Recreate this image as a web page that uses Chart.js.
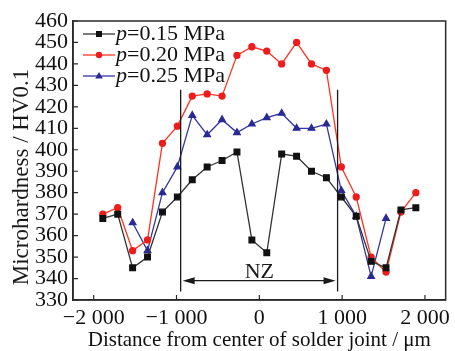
<!DOCTYPE html>
<html>
<head>
<meta charset="utf-8">
<script src="https://cdn.jsdelivr.net/npm/chart.js@4.4.1/dist/chart.umd.min.js"></script>
<style>
  html, body { margin: 0; padding: 0; background: #fff; }
</style>
</head>
<body>
<canvas id="mycanvas" width="455" height="351"></canvas>
<script>
// distance from centre of joint (um)
const xPos = [-1890, -1710, -1530, -1350, -1170, -990, -810, -630, -450, -270, -90,
              90, 270, 450, 630, 810, 990, 1170, 1350, 1530, 1710, 1890];
const hv015 = [368, 370, 345, 350, 371, 378, 386, 392, 395, 399, 358,
               352, 398, 397, 390, 387, 378, 369, 348, 345, 372, 373];
const hv020 = [370, 373, 353, 358, 403, 411, 425, 426, 425, 444, 448,
               446, 440, 450, 440, 437, 392, 378, 350, 343, 371, 380];
const xPos025 = [-1530, -1350, -1170, -990, -810, -630, -450, -270, -90,
                 90, 270, 450, 630, 810, 990, 1170, 1350, 1530];
const hv025 = [366, 353, 380, 392, 416, 407, 414, 408, 412,
               415, 417, 410, 410, 412, 381, 369, 341, 368];
const seriesNames = ['0.15 MPa', '0.20 MPa', '0.25 MPa'];
const xTicks = [-2000, -1000, 0, 1000, 2000];
// NZ boundaries and marker height
const nzEdges = [-950, 945];
const nzLineTop = 428, nzLineBottom = 334, nzArrowY = 339, nzLabelY = 343;

const serif = '"Liberation Serif", "Times New Roman", serif';

function pts(xs, ys) {
    return xs.map((x, i) => ({ x: x, y: ys[i] }));
}

function fmtX(v) {
    const a = Math.abs(v);
    const s = a >= 1000 ? Math.floor(a / 1000) + ' ' + String(a % 1000).padStart(3, '0') : String(a);
    return (v < 0 ? '\u2212' : '') + s;
}

const decor = {
    id: 'decor',
    afterDraw(chart) {
        const ctx = chart.ctx;
        const a = chart.chartArea;
        const x = chart.scales.x, y = chart.scales.y;
        ctx.save();
        ctx.strokeStyle = '#2a2a2a';
        ctx.lineWidth = 1.5;
        ctx.strokeRect(a.left, a.top, a.right - a.left, a.bottom - a.top);

        // inward ticks
        ctx.lineWidth = 1.2;
        ctx.beginPath();
        y.ticks.forEach(t => {
            const py = y.getPixelForValue(t.value);
            ctx.moveTo(a.left, py); ctx.lineTo(a.left + 5, py);
        });
        x.ticks.forEach(t => {
            const px = x.getPixelForValue(t.value);
            ctx.moveTo(px, a.bottom); ctx.lineTo(px, a.bottom - 5);
        });
        ctx.stroke();

        // NZ boundaries
        ctx.strokeStyle = '#1a1a1a';
        ctx.lineWidth = 1.3;
        ctx.beginPath();
        nzEdges.forEach(e => {
            const px = x.getPixelForValue(e);
            ctx.moveTo(px, y.getPixelForValue(nzLineTop));
            ctx.lineTo(px, y.getPixelForValue(nzLineBottom));
        });
        const x1 = x.getPixelForValue(nzEdges[0]) + 2, x2 = x.getPixelForValue(nzEdges[1]) - 2;
        const ay = y.getPixelForValue(nzArrowY);
        ctx.moveTo(x1 + 8, ay); ctx.lineTo(x2 - 8, ay);
        ctx.stroke();
        ctx.fillStyle = '#1a1a1a';
        ctx.beginPath();
        ctx.moveTo(x1, ay); ctx.lineTo(x1 + 12, ay - 3.5); ctx.lineTo(x1 + 12, ay + 3.5); ctx.closePath();
        ctx.moveTo(x2, ay); ctx.lineTo(x2 - 12, ay - 3.5); ctx.lineTo(x2 - 12, ay + 3.5); ctx.closePath();
        ctx.fill();
        ctx.font = '22px ' + serif;
        ctx.textAlign = 'center';
        ctx.textBaseline = 'middle';
        ctx.fillText('NZ', x.getPixelForValue(0), y.getPixelForValue(nzLabelY));

        // y title
        ctx.save();
        ctx.translate(22, 177);
        ctx.rotate(-Math.PI / 2);
        ctx.font = '23px ' + serif;
        ctx.fillText('Microhardness / HV0.1', 0, 0);
        ctx.restore();

        // legend
        chart.data.datasets.forEach((ds, i) => {
            const ly = a.top + 13 + i * 21;
            const lx = a.left + 10;
            ctx.strokeStyle = ds.borderColor;
            ctx.lineWidth = 1.3;
            ctx.beginPath();
            ctx.moveTo(lx, ly); ctx.lineTo(lx + 32, ly);
            ctx.stroke();
            ctx.fillStyle = ds.pointBackgroundColor;
            const cx = lx + 16;
            ctx.beginPath();
            if (ds.pointStyle === 'rect') {
                ctx.rect(cx - 3, ly - 3, 6, 6);
            } else if (ds.pointStyle === 'circle') {
                ctx.arc(cx, ly, 3.2, 0, Math.PI * 2);
            } else {
                ctx.moveTo(cx, ly - 4); ctx.lineTo(cx + 3.8, ly + 2.5); ctx.lineTo(cx - 3.8, ly + 2.5); ctx.closePath();
            }
            ctx.fill();
            ctx.fillStyle = '#111111';
            ctx.textAlign = 'left';
            ctx.textBaseline = 'middle';
            ctx.font = 'italic 22px ' + serif;
            ctx.fillText('p', lx + 33, ly);
            const w = ctx.measureText('p').width;
            ctx.font = '22px ' + serif;
            ctx.fillText('=' + seriesNames[i], lx + 33 + w, ly);
        });
        ctx.restore();
    }
};

const ctx = document.getElementById('mycanvas');
new Chart(ctx, {
    type: 'line',
    data: {
        datasets: [
            {
                label: 'p=' + seriesNames[0],
                data: pts(xPos, hv015),
                borderColor: '#333333',
                pointBackgroundColor: '#111111',
                pointBorderColor: '#111111',
                pointStyle: 'rect',
                pointRadius: 4,
                borderWidth: 1.3
            },
            {
                label: 'p=' + seriesNames[1],
                data: pts(xPos, hv020),
                borderColor: '#ff3322',
                pointBackgroundColor: '#ee1c1c',
                pointBorderColor: '#ee1c1c',
                pointStyle: 'circle',
                pointRadius: 3,
                borderWidth: 1.3
            },
            {
                label: 'p=' + seriesNames[2],
                data: pts(xPos025, hv025),
                borderColor: '#3535a5',
                pointBackgroundColor: '#2a2a95',
                pointBorderColor: '#2a2a95',
                pointStyle: 'triangle',
                pointRadius: 3.8,
                borderWidth: 1.3
            }
        ]
    },
    options: {
        responsive: false,
        animation: false,
        maintainAspectRatio: false,
        layout: { padding: { top: 21, right: 5, left: 0, bottom: 0 } },
        plugins: {
            legend: { display: false },
            tooltip: { enabled: false }
        },
        scales: {
            x: {
                type: 'linear',
                min: -2250,
                max: 2250,
                afterBuildTicks: s => { s.ticks = xTicks.map(v => ({ value: v })); },
                afterFit: s => { s.height = 51; },
                grid: { drawOnChartArea: false, drawTicks: false },
                border: { color: '#2a2a2a', width: 1.5 },
                ticks: {
                    padding: 5,
                    color: '#111111',
                    autoSkip: false,
                    font: { family: serif, size: 22 },
                    maxRotation: 0,
                    callback: v => fmtX(v)
                },
                title: {
                    display: true,
                    text: 'Distance from center of solder joint / \u03bcm',
                    color: '#111111',
                    font: { family: serif, size: 21, lineHeight: 1 },
                    padding: 0
                }
            },
            y: {
                min: 330,
                max: 460,
                afterFit: s => { s.width = 73; },
                grid: { drawOnChartArea: false, drawTicks: false },
                border: { color: '#2a2a2a', width: 1.5 },
                ticks: {
                    stepSize: 10,
                    autoSkip: false,
                    padding: 5,
                    color: '#111111',
                    font: { family: serif, size: 22 }
                }
            }
        }
    },
    plugins: [decor]
});
</script>
</body>
</html>
